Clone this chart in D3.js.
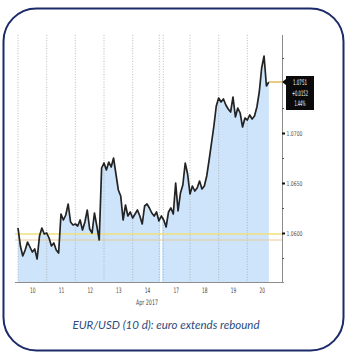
<!DOCTYPE html>
<html>
<head>
<meta charset="utf-8">
<script src="https://cdn.jsdelivr.net/npm/d3@7"></script>
<style>
  html, body { margin: 0; padding: 0; background: #fff; }
  svg { display: block; }
</style>
</head>
<body>
<svg id="chart" width="350" height="360"></svg>
<script>
// EUR/USD intraday closes, one reading every two hours, per trading day
const day10 = [1.0605, 1.0587, 1.0577, 1.0583, 1.0591, 1.0586, 1.0581, 1.0584, 1.0574, 1.0597, 1.0605, 1.0599];
const day11 = [1.0600, 1.0595, 1.0587, 1.0590, 1.0583, 1.0580, 1.0619, 1.0613, 1.0618, 1.0629, 1.0611, 1.0608];
const day12 = [1.0609, 1.0607, 1.0613, 1.0603, 1.0611, 1.0623, 1.0604, 1.0600, 1.0620, 1.0607, 1.0593, 1.0665];
const day13 = [1.0670, 1.0663, 1.0671, 1.0666, 1.0675, 1.0659, 1.0643, 1.0637, 1.0613, 1.0628, 1.0617, 1.0621];
const day14 = [1.0615, 1.0619, 1.0623, 1.0617, 1.0609, 1.0627, 1.0629, 1.0625, 1.0620, 1.0617, 1.0621, 1.0612];
const day17 = [1.0617, 1.0613, 1.0606, 1.0621, 1.0625, 1.0619, 1.0650, 1.0622, 1.0640, 1.0648, 1.0670, 1.0659];
const day18 = [1.0639, 1.0647, 1.0642, 1.0645, 1.0652, 1.0644, 1.0647, 1.0657, 1.0673, 1.0690, 1.0707, 1.0727];
const day19 = [1.0735, 1.0731, 1.0734, 1.0728, 1.0724, 1.0721, 1.0736, 1.0716, 1.0725, 1.0720, 1.0706, 1.0715];
const day20 = [1.0713, 1.0718, 1.0714, 1.0717, 1.0726, 1.0741, 1.0765, 1.0777, 1.0747, 1.0751];

const sessions = [day10, day11, day12, day13, day14, day17, day18, day19, day20];
const dayLabels = ["10", "11", "12", "13", "14", "17", "18", "19", "20"];
const monthLabel = "Apr 2017";

const majorTicks = [1.0600, 1.0650, 1.0700];
const minorTicks = [1.0575, 1.0625, 1.0675, 1.0725, 1.0775];

const prevClose = 1.0599;
const sessionOpen = 1.0593;
const priceTag = ["1.0751", "+0.0152", "1.44%"];
const caption = "EUR/USD (10 d): euro extends rebound";

const readingsPerDay = 12;

// flatten sessions into [t, value] with t in trading-day units
const series = [];
sessions.forEach((vals, d) => {
  vals.forEach((v, i) => series.push({ t: d + i / readingsPerDay, v }));
});

const narrow = "'Liberation Sans Narrow', 'DejaVu Sans Condensed', sans-serif";
const svg = d3.select("#chart");

// rounded frame
svg.append("rect")
  .attr("x", 3.5).attr("y", 8.5)
  .attr("width", 340).attr("height", 342)
  .attr("rx", 33).attr("ry", 33)
  .attr("fill", "#fff")
  .attr("stroke", "#1b2a68")
  .attr("stroke-width", 2);

const plotTop = 35, plotBottom = 282, plotLeft = 15, axisX = 282;

const x = d3.scaleLinear().domain([0, 9]).range([18, 276]);
const y = d3.scaleLinear().domain([1.0551, 1.0798]).range([plotBottom, plotTop]);

// price area
const area = d3.area()
  .x(d => x(d.t))
  .y0(plotBottom)
  .y1(d => y(d.v));
svg.append("path")
  .datum(series)
  .attr("d", area)
  .attr("fill", "#cde4fa");

// dotted day dividers
const dividers = [0, 1, 2, 3, 4, 6, 7, 8].map(d => x(d));
dividers.push(x(5) - 2, x(5) + 2);
svg.append("g")
  .selectAll("line")
  .data(dividers)
  .join("line")
  .attr("x1", d => d).attr("x2", d => d)
  .attr("y1", plotTop).attr("y2", plotBottom)
  .attr("stroke", "#a9a9a9")
  .attr("stroke-width", 0.8)
  .attr("stroke-dasharray", "1,1.6");

// weekend break
svg.append("line")
  .attr("x1", x(5) - 0.2).attr("x2", x(5) - 0.2)
  .attr("y1", plotTop).attr("y2", plotBottom)
  .attr("stroke", "#fff")
  .attr("stroke-width", 1.8);

// reference levels
svg.append("line")
  .attr("x1", plotLeft).attr("x2", axisX)
  .attr("y1", y(prevClose)).attr("y2", y(prevClose))
  .attr("stroke", "#f1e07a").attr("stroke-width", 1.6);
svg.append("line")
  .attr("x1", plotLeft).attr("x2", axisX)
  .attr("y1", y(sessionOpen)).attr("y2", y(sessionOpen))
  .attr("stroke", "#e8cb97").attr("stroke-width", 1);

// price line
const line = d3.line()
  .x(d => x(d.t))
  .y(d => y(d.v));
svg.append("path")
  .datum(series)
  .attr("d", line)
  .attr("fill", "none")
  .attr("stroke", "#232323")
  .attr("stroke-width", 1.7)
  .attr("stroke-linejoin", "round");

// bottom axis
const xAxis = d3.axisBottom(x)
  .tickValues(dayLabels.map((_, i) => i + 0.5))
  .tickFormat((_, i) => dayLabels[i])
  .tickSize(0)
  .tickPadding(6);
const gx = svg.append("g")
  .attr("transform", `translate(0,${plotBottom})`)
  .call(xAxis);
gx.select(".domain").remove();
gx.selectAll("text")
  .attr("font-family", narrow)
  .attr("font-size", 7.5)
  .attr("fill", "#444")
  .attr("textLength", 5.5)
  .attr("lengthAdjust", "spacingAndGlyphs");
svg.append("line")
  .attr("x1", plotLeft).attr("x2", axisX + 2)
  .attr("y1", plotBottom + 0.5).attr("y2", plotBottom + 0.5)
  .attr("stroke", "#8c8c8c").attr("stroke-width", 1);
svg.append("text")
  .attr("x", x(4.5)).attr("y", 305)
  .attr("text-anchor", "middle")
  .attr("font-family", narrow)
  .attr("font-size", 7.5)
  .attr("fill", "#444")
  .attr("textLength", 22)
  .attr("lengthAdjust", "spacingAndGlyphs")
  .text(monthLabel);

// right value axis
svg.append("line")
  .attr("x1", axisX + 0.5).attr("x2", axisX + 0.5)
  .attr("y1", plotTop).attr("y2", plotBottom + 1)
  .attr("stroke", "#8c8c8c").attr("stroke-width", 1);

const minorAxis = d3.axisRight(y).tickValues(minorTicks).tickSize(2).tickFormat("");
const gMinor = svg.append("g").attr("transform", `translate(${axisX},0)`).call(minorAxis);
gMinor.select(".domain").remove();
gMinor.selectAll("line").attr("stroke", "#555");

const majorAxis = d3.axisRight(y)
  .tickValues(majorTicks)
  .tickSize(3)
  .tickPadding(1.5)
  .tickFormat(d3.format(".4f"));
const gMajor = svg.append("g").attr("transform", `translate(${axisX},0)`).call(majorAxis);
gMajor.select(".domain").remove();
gMajor.selectAll("line").attr("stroke", "#111").attr("stroke-width", 2);
gMajor.selectAll("text")
  .attr("font-family", narrow)
  .attr("font-size", 6.5)
  .attr("fill", "#555")
  .attr("textLength", 16)
  .attr("lengthAdjust", "spacingAndGlyphs");

// last price tag
const last = series[series.length - 1];
const yLast = y(last.v);
svg.append("line")
  .attr("x1", x(last.t)).attr("x2", axisX + 2)
  .attr("y1", yLast).attr("y2", yLast)
  .attr("stroke", "#e4b75e").attr("stroke-width", 1.5);

const tagX = axisX + 2, tagTop = yLast - 6, tagW = 30, tagH = 34;
svg.append("path")
  .attr("d", `M${tagX - 2},${yLast} L${tagX + 2},${yLast - 3} L${tagX + 2},${tagTop} L${tagX + tagW},${tagTop} L${tagX + tagW},${tagTop + tagH} L${tagX + 2},${tagTop + tagH} L${tagX + 2},${yLast + 3} Z`)
  .attr("fill", "#0a0a0a");
const tagWidths = [14, 16, 11];
svg.append("g")
  .selectAll("text")
  .data(priceTag)
  .join("text")
  .attr("x", tagX + 2 + (tagW - 2) / 2)
  .attr("y", (d, i) => tagTop + 9 + i * 10.5)
  .attr("text-anchor", "middle")
  .attr("font-family", narrow)
  .attr("font-size", 7.5)
  .attr("fill", "#fff")
  .attr("textLength", (d, i) => tagWidths[i])
  .attr("lengthAdjust", "spacingAndGlyphs")
  .text(d => d);

// caption
svg.append("text")
  .attr("x", 166).attr("y", 329)
  .attr("text-anchor", "middle")
  .attr("font-family", "Lato, 'Open Sans', sans-serif")
  .attr("font-style", "italic")
  .attr("font-size", 11.5)
  .attr("fill", "#2c4a7c")
  .text(caption);
</script>
</body>
</html>
